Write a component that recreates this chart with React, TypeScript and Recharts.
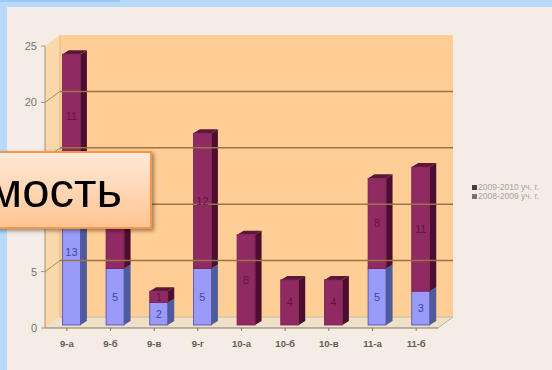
import { BarChart, Bar, XAxis, YAxis, Legend, LabelList, ReferenceArea, ReferenceLine } from 'recharts';

const classes = ['9-а', '9-б', '9-в', '9-г', '10-а', '10-б', '10-в', '11-а', '11-б'];
const year0809 = [13, 5, 2, 5, null, null, null, 5, 3];
const year0910 = [11, 8, 1, 12, 8, 4, 4, 8, 11];
const yTicks = [0, 5, 10, 15, 20, 25];
const wallLines = [5, 10, 15, 20];

const data = classes.map((name, i) => ({
  name,
  '2008-2009 уч. г.': year0809[i],
  '2009-2010 уч. г.': year0910[i],
}));

const DEPTH_X = 15;
const DEPTH_Y = 11;
// bars stand a little inside the floor, not on its front edge
const BAR_SHIFT_X = 4.4;
const BAR_SHIFT_Y = -3;
const BAR_DX = 6.5;
const BAR_DY = 4;

// back wall, side wall and floor of the pseudo-3D box
function Walls({ x, y, width, height }: any) {
  const b = y + height;
  const r = x + width;
  return (
    <g>
      <polygon points={`${x},${y} ${x + DEPTH_X},${y - DEPTH_Y} ${x + DEPTH_X},${b - DEPTH_Y} ${x},${b}`} fill="#FBD8AC" />
      <rect x={x + DEPTH_X} y={y - DEPTH_Y} width={width} height={height} fill="#FFCE96" />
      <polygon points={`${x},${b} ${x + DEPTH_X},${b - DEPTH_Y} ${r + DEPTH_X},${b - DEPTH_Y} ${r},${b}`} fill="#F0E0C8" />
      <line x1={x + DEPTH_X} y1={b - DEPTH_Y} x2={r + DEPTH_X} y2={b - DEPTH_Y} stroke="#D8C4A4" strokeWidth={1.5} />
      <line x1={r} y1={b} x2={r + DEPTH_X} y2={b - DEPTH_Y} stroke="#B8AE98" />
      <line x1={x + DEPTH_X} y1={y - DEPTH_Y} x2={x + DEPTH_X} y2={b - DEPTH_Y} stroke="#D9B98E" />
    </g>
  );
}

function WallLine({ x1, y1, x2 }: any) {
  return (
    <g>
      <line x1={x1} y1={y1} x2={x1 + DEPTH_X} y2={y1 - DEPTH_Y} stroke="#A68A60" />
      <line x1={x1 + DEPTH_X} y1={y1 - DEPTH_Y} x2={x2 + DEPTH_X} y2={y1 - DEPTH_Y} stroke="#9A7442" strokeWidth={1.5} />
    </g>
  );
}

function Bar3D({ x, y, width, height, front, side, top, edge }: any) {
  if (!height) return null;
  const l = x + BAR_SHIFT_X;
  const r = l + width;
  const t = y + BAR_SHIFT_Y;
  const b = t + height;
  return (
    <g>
      <polygon points={`${r},${t} ${r + BAR_DX},${t - BAR_DY} ${r + BAR_DX},${b - BAR_DY} ${r},${b}`} fill={side} />
      <polygon points={`${l},${t} ${l + BAR_DX},${t - BAR_DY} ${r + BAR_DX},${t - BAR_DY} ${r},${t}`} fill={top} />
      <rect x={l} y={t} width={width} height={height} fill={front} stroke={edge} strokeWidth={0.8} />
    </g>
  );
}

function LegendBox({ payload }: any) {
  const items = [...(payload || [])].reverse();
  return (
    <div style={{ fontFamily: 'Liberation Sans', fontSize: 8.5, color: '#A8A29C', lineHeight: '9px' }}>
      {items.map((it: any, i: number) => (
        <div key={it.value} style={{ whiteSpace: 'nowrap' }}>
          <span style={{ display: 'inline-block', width: 5, height: 5, marginRight: 1, background: i === 0 ? '#4E3A44' : '#77727A' }} />
          {it.value}
        </div>
      ))}
    </div>
  );
}

export default function App() {
  return (
    <div style={{ position: 'absolute', left: 0, top: 0, width: 552, height: 370, overflow: 'hidden', background: '#B8DAFE' }}>
      <div style={{ position: 'absolute', left: 0, top: 0, width: 120, height: 2, background: '#9FC6F4' }} />
      <div style={{ position: 'absolute', left: 7, top: 7, width: 545, height: 363, background: '#F5EDE5' }} />
      <div style={{ position: 'absolute', left: 0, top: 0 }}>
        <BarChart
          width={552}
          height={370}
          data={data}
          margin={{ top: 46, right: 114, left: 15, bottom: 12 }}
          barSize={18}
        >
          <ReferenceArea y1={0} y2={25} shape={Walls} fill="none" stroke="none" />
          {wallLines.map(v => (
            <ReferenceLine key={v} y={v} shape={WallLine} />
          ))}
          <XAxis
            dataKey="name"
            height={30}
            interval={0}
            stroke="#7F7A66"
            tickSize={3}
            tickMargin={9}
            tick={{ fontSize: 9.5, fontWeight: 700, fontFamily: 'Liberation Sans', fill: '#5f5b58' }}
          />
          <YAxis
            width={30}
            domain={[0, 25]}
            ticks={yTicks}
            stroke="#A39478"
            tickSize={4}
            tickMargin={4}
            tick={{ fontSize: 11, fontFamily: 'Liberation Sans', fill: '#77736F' }}
          />
          <Legend
            layout="horizontal"
            verticalAlign="middle"
            content={LegendBox}
            wrapperStyle={{ position: 'absolute', left: 472, top: 183, width: 76 }}
          />
          <Bar
            dataKey="2008-2009 уч. г."
            stackId="a"
            isAnimationActive={false}
            fill="#9999FF"
            shape={(p: any) => <Bar3D {...p} front="#9A9BF8" side="#4F5C9C" top="#7C7CD0" edge="#4A4AA8" />}
          >
            <LabelList dataKey="2008-2009 уч. г." position="center" dx={BAR_SHIFT_X} dy={BAR_SHIFT_Y} style={{ fontSize: 11, fontFamily: 'Liberation Sans', fill: '#3F48A6' }} />
          </Bar>
          <Bar
            dataKey="2009-2010 уч. г."
            stackId="a"
            isAnimationActive={false}
            fill="#8E2A62"
            shape={(p: any) => <Bar3D {...p} front="#8F2A63" side="#4C0E2E" top="#5A1738" edge="#7A2054" />}
          >
            <LabelList dataKey="2009-2010 уч. г." position="center" dx={BAR_SHIFT_X} dy={BAR_SHIFT_Y} style={{ fontSize: 11, fontFamily: 'Liberation Sans', fill: '#661344' }} />
          </Bar>
        </BarChart>
      </div>
      <div
        style={{
          position: 'absolute',
          left: -20,
          top: 151,
          width: 168,
          height: 74,
          border: '2px solid #F79646',
          background: 'linear-gradient(#FFE9D9, #FFC592)',
          boxShadow: '2px 2px 4px rgba(0,0,0,0.4)',
          fontFamily: 'Liberation Sans',
          fontSize: 49,
          color: '#000',
          textAlign: 'right',
          lineHeight: '74px',
          whiteSpace: 'nowrap',
        }}
      >
        <span style={{ marginRight: 28 }}>мость</span>
      </div>
    </div>
  );
}
